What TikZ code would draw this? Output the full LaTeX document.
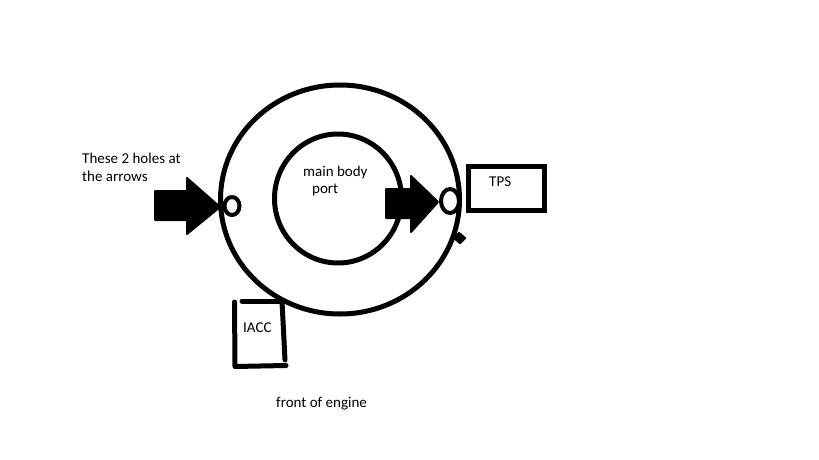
\documentclass[tikz,border=0pt]{standalone}
\usepackage{fontspec}
\setmainfont{Carlito}
\tikzset{
  ink/.style={draw=black,line width=5pt,fill=none},
  hole/.style={draw=black,line width=4pt,fill=white},
  fat/.style={draw=black,fill=black,line width=2pt,line join=round},
  sketch/.style={draw=black,line width=5pt,line cap=round},
  lbl/.style={font=\fontsize{15}{18}\selectfont,text=black,inner sep=0pt,anchor=base west}
}
\begin{document}
\begin{tikzpicture}[x=1pt,y=-1pt]
\useasboundingbox[fill=white] (0,0) rectangle (819,460);
% rings
\draw[ink] (340,199.5) ellipse [x radius=119.5,y radius=114.5];
\draw[ink] (338,198.5) ellipse [x radius=63.5,y radius=64.5];
% arrows
\draw[fat] (155,191) -- (187,191) -- (187,178) -- (220,207) -- (187,234) -- (187,220) -- (155,220) -- cycle;
\draw[fat] (386,189) -- (411,189) -- (411,176) -- (438,202) -- (411,232) -- (411,218) -- (386,218) -- cycle;
% holes
\draw[hole] (232,206) ellipse [x radius=7.5,y radius=9];
\draw[hole] (450,201) ellipse [x radius=9,y radius=12];
% TPS box
\draw[draw=black,line width=5pt] (468.5,166.5) rectangle (544.5,210.5);
% small mark
\fill[black,rounded corners=1pt] (459,231.5) -- (466.5,238) -- (460,244.5) -- (452.5,238) -- cycle;
% IACC box
\draw[sketch] (234.5,302) -- (235,366);
\draw[sketch] (235,366.5) -- (286,365.5);
\draw[sketch] (242,301) -- (281,301);
\draw[sketch] (282,301) -- (285,360);
% labels
\node[lbl] (holes1) at (82,163) {These 2 holes at};
\node[lbl] (holes2) at (82,181) {the arrows};
\node[lbl] (main) at (303,176) {main body};
\node[lbl] (port) at (312,193) {port};
\node[lbl] (tps) at (489,186) {TPS};
\node[lbl] (iacc) at (243,332) {IACC};
\node[lbl] (front) at (276,407) {front of engine};
\end{tikzpicture}
\end{document}
